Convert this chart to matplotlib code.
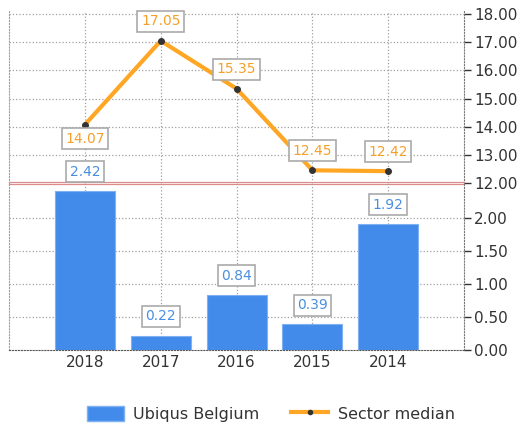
import matplotlib.pyplot as plt
from matplotlib.lines import Line2D
from matplotlib.patches import Patch

years = ['2018', '2017', '2016', '2015', '2014']
company = [2.42, 0.22, 0.84, 0.39, 1.92]
sector = [14.07, 17.05, 15.35, 12.45, 12.42]
company_name = 'Ubiqus Belgium'
sector_name = 'Sector median'
top_ticks = [12, 13, 14, 15, 16, 17, 18]
bottom_ticks = [0.0, 0.5, 1.0, 1.5, 2.0]

bar_color = '#428bea'
line_color = '#ffa624'
grid_color = '#a0a0a0'
text_color = '#333333'

fig = plt.figure(figsize=(5.31, 4.33), dpi=100)
# two panels sharing x: sector median on top, company values below
ax_top = fig.add_axes([0.017, 0.5774, 0.857, 0.3967])
ax_bot = fig.add_axes([0.017, 0.1917, 0.857, 0.3857])
ax_bot.set_zorder(3)
ax_bot.patch.set_alpha(0)

x = list(range(len(years)))

for ax in (ax_top, ax_bot):
    ax.set_xlim(-1, 5)
    ax.yaxis.tick_right()
    ax.tick_params(axis='y', direction='out', length=5, width=1, colors=text_color,
                   labelsize=11, pad=2)
    ax.tick_params(axis='x', length=0, colors=text_color, labelsize=11)
    ax.set_xticks(x)
    for v in x:
        ax.axvline(v, color=grid_color, ls=':', lw=0.9, zorder=0)
    for s in ('top',):
        ax.spines[s].set_visible(False)
    ax.spines['left'].set_linestyle(':')
    ax.spines['left'].set_color(grid_color)
    ax.spines['right'].set_linestyle(':')
    ax.spines['right'].set_color('#777777')

ax_top.set_ylim(12, 18.1)
ax_top.set_yticks(top_ticks)
ax_top.set_yticklabels(['%.2f' % t for t in top_ticks])
ax_top.set_xticklabels([])
ax_top.spines['bottom'].set_visible(False)
for t in top_ticks[1:]:
    ax_top.axhline(t, color=grid_color, ls=':', lw=0.9, zorder=0)

ax_bot.set_ylim(0, 2.538)
ax_bot.set_yticks(bottom_ticks)
ax_bot.set_yticklabels(['%.2f' % t for t in bottom_ticks])
ax_bot.set_xticklabels(years)
ax_bot.spines['bottom'].set_linestyle(':')
ax_bot.spines['bottom'].set_color('#555555')
for t in bottom_ticks[1:]:
    ax_bot.axhline(t, color=grid_color, ls=':', lw=0.9, zorder=0)

# bars
ax_bot.bar(x, company, width=0.79, color=bar_color, edgecolor='#7fb0f2', lw=0.8, zorder=2)
for xi, v in zip(x, company):
    ax_bot.annotate('%.2f' % v, (xi, v), xytext=(0, 13.7), textcoords='offset points',
                    ha='center', va='center', fontsize=10, color='#4a8ee0',
                    annotation_clip=False, zorder=5,
                    bbox=dict(boxstyle='square,pad=0.25', fc='white', ec='#aaaaaa', lw=1.2))

# sector median line
ax_top.plot(x, sector, color=line_color, lw=3, marker='o', ms=4,
            mfc='#333333', mec='#333333', zorder=3, clip_on=False)
for i, (xi, v) in enumerate(zip(x, sector)):
    dy = -10 if i == 0 else 14
    ax_top.annotate('%.2f' % v, (xi, v), xytext=(0, dy), textcoords='offset points',
                    ha='center', va='center', fontsize=10, color='#f5a02a',
                    annotation_clip=False, zorder=5,
                    bbox=dict(boxstyle='square,pad=0.25', fc='white', ec='#aaaaaa', lw=1.2))

# break marker between the two scales
for yy in (0.5805, 0.5750):
    fig.add_artist(Line2D([0.017, 0.874], [yy, yy], color='#dc8a8a', lw=0.9))

handles = [Patch(facecolor=bar_color, edgecolor='#7fb0f2'),
           Line2D([0], [0], color=line_color, lw=3, marker='o', ms=3,
                  mfc='#333333', mec='#333333')]
fig.legend(handles, [company_name, sector_name], loc='center',
           bbox_to_anchor=(0.51, 0.044), ncol=2, frameon=False, fontsize=11.5,
           handlelength=2.3, handleheight=1.1, columnspacing=2.0, handletextpad=0.6,
           labelcolor=text_color)

fig.savefig('out.png', dpi=100)
